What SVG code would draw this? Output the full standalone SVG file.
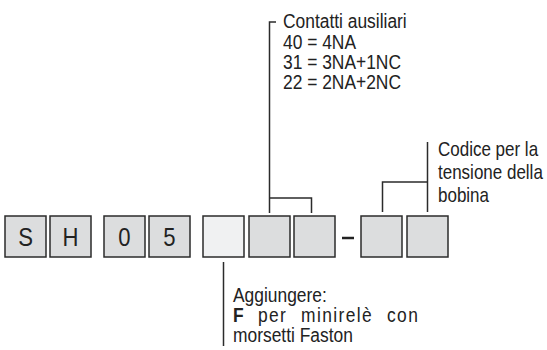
<svg xmlns="http://www.w3.org/2000/svg" width="547" height="350" viewBox="0 0 547 350">
<style>
.box{fill:#dcddde;stroke:#2b2b2b;stroke-width:1.5}
.light{fill:#f0f1f2}
.code{font-family:"Liberation Sans",Arial,sans-serif;font-size:26px;fill:#222;text-anchor:middle}
.t{font-family:"Liberation Sans",Arial,sans-serif;font-size:20px;fill:#222}
.ln{fill:none;stroke:#2b2b2b;stroke-width:1.5}
</style>
<rect width="547" height="350" fill="#ffffff"/>
<g id="box-S"><rect class="box" x="5" y="216" width="41" height="41"/><text class="code" transform="translate(25.5,246) scale(0.85,1)">S</text></g>
<g id="box-H"><rect class="box" x="50" y="216" width="41" height="41"/><text class="code" transform="translate(70.5,246) scale(0.85,1)">H</text></g>
<g id="box-0"><rect class="box" x="104" y="216" width="41" height="41"/><text class="code" transform="translate(124.5,246) scale(0.85,1)">0</text></g>
<g id="box-5"><rect class="box" x="149" y="216" width="41" height="41"/><text class="code" transform="translate(169.5,246) scale(0.85,1)">5</text></g>
<g id="box-6"><rect class="box light" x="203" y="216" width="41" height="41"/></g>
<g id="box-7"><rect class="box" x="249" y="216" width="41" height="41"/></g>
<g id="box-8"><rect class="box" x="294" y="216" width="41" height="41"/></g>
<g id="dash"><line x1="342" y1="238" x2="354" y2="238" stroke="#222" stroke-width="2.5"/></g>
<g id="box-9"><rect class="box" x="361" y="216" width="41" height="41"/></g>
<g id="box-10"><rect class="box" x="407" y="216" width="41" height="41"/></g>
<g id="connectors">
<path class="ln" d="M269.5,213 V22 H276"/>
<path class="ln" d="M269.5,198 H311.5 V213"/>
<path class="ln" d="M427.5,142 V212"/>
<path class="ln" d="M382.5,212 V182 H427.5"/>
<path class="ln" d="M223.5,262 V346"/>
</g>
<g id="label-contatti">
<text class="t" transform="translate(283,28) scale(0.87,1)">Contatti ausiliari</text>
<text class="t" transform="translate(283,49) scale(0.87,1)">40 = 4NA</text>
<text class="t" transform="translate(283,69) scale(0.87,1)">31 = 3NA+1NC</text>
<text class="t" transform="translate(283,89) scale(0.87,1)">22 = 2NA+2NC</text>
</g>
<g id="label-codice">
<text class="t" transform="translate(438,156) scale(0.85,1)">Codice per la</text>
<text class="t" transform="translate(438,179) scale(0.85,1)">tensione della</text>
<text class="t" transform="translate(438,202) scale(0.85,1)">bobina</text>
</g>
<g id="label-aggiungere">
<text class="t" transform="translate(233,302) scale(0.87,1)">Aggiungere:</text>
<text class="t" transform="translate(233,322) scale(0.87,1)" letter-spacing="1.6"><tspan x="0" font-weight="bold">F</tspan><tspan x="28.7">per</tspan><tspan x="78.2">minirelè</tspan><tspan x="177">con</tspan></text>
<text class="t" transform="translate(233,342) scale(0.87,1)">morsetti Faston</text>
</g>
</svg>
